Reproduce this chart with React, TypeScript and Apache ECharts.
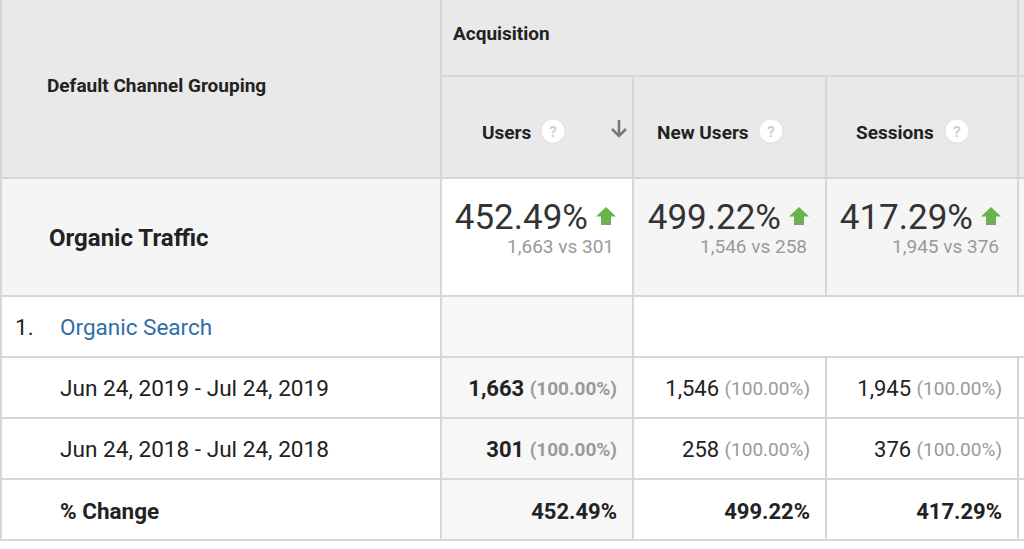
import React, { useEffect, useRef } from "react";
import * as echarts from "echarts";

// ---- data ----
const groupTitle = "Acquisition";
const dimensionTitle = "Default Channel Grouping";
const metrics = ["Users", "New Users", "Sessions"];
const segmentName = "Organic Traffic";
const channelName = "Organic Search";
const dateRanges = ["Jun 24, 2019 - Jul 24, 2019", "Jun 24, 2018 - Jul 24, 2018"];
const currentValues = [1663, 1546, 1945];
const previousValues = [301, 258, 376];
const currentShare = [100, 100, 100];
const previousShare = [100, 100, 100];
const changePct = [452.49, 499.22, 417.29];
const changeLabel = "% Change";

// ---- layout ----
const W = 1024;
const H = 549;
const colX = [441, 633, 826, 1018];
const rowY = { acq: 76, head: 178, seg: 296, chan: 357, r1: 418, r2: 479, end: 540 };
const FONT = "Roboto, 'Noto Sans', sans-serif";
const LINE = "#d7d7d7";

const fmtInt = (v: number) => v.toLocaleString("en-US");
const fmtPct = (v: number) => v.toFixed(2) + "%";

function txt(x: number, y: number, text: string, size: number, opts: any = {}) {
  return {
    type: "text",
    x,
    y,
    silent: true,
    style: {
      text,
      fill: opts.fill || "#222",
      fontSize: size,
      fontWeight: opts.bold ? "bold" : "normal",
      fontFamily: FONT,
      textAlign: opts.align || "left",
      textVerticalAlign: "middle",
      align: opts.align || "left",
      verticalAlign: "middle",
    },
  };
}

function rect(x: number, y: number, w: number, h: number, fill: string) {
  return { type: "rect", silent: true, shape: { x, y, width: w, height: h }, style: { fill } };
}

function line(x1: number, y1: number, x2: number, y2: number) {
  return {
    type: "line",
    silent: true,
    shape: { x1, y1, x2, y2 },
    style: { stroke: LINE, lineWidth: 2 },
  };
}

function buildGraphics() {
  const g: any[] = [];
  // backgrounds
  g.push(rect(0, 0, W, H, "#ffffff"));
  g.push(rect(0, 0, W, rowY.head, "#e9e9e9"));
  g.push(rect(0, rowY.head, W, rowY.seg - rowY.head, "#f5f5f5"));
  g.push(rect(colX[0], rowY.head, colX[1] - colX[0], rowY.seg - rowY.head, "#ffffff"));
  g.push(rect(colX[0], rowY.seg, colX[1] - colX[0], rowY.end - rowY.seg, "#f7f7f7"));

  // horizontal lines
  g.push(line(colX[0], rowY.acq, W, rowY.acq));
  [rowY.head, rowY.seg, rowY.chan, rowY.r1, rowY.r2, rowY.end].forEach((y) => g.push(line(0, y, W, y)));
  // vertical lines
  g.push(line(1, 0, 1, rowY.end));
  g.push(line(colX[0], 0, colX[0], rowY.end));
  g.push(line(colX[1], rowY.acq, colX[1], rowY.end));
  g.push(line(colX[2], rowY.acq, colX[2], rowY.seg));
  g.push(line(colX[2], rowY.chan, colX[2], rowY.end));
  g.push(line(colX[3], 0, colX[3], rowY.seg));
  g.push(line(colX[3], rowY.chan, colX[3], rowY.end));

  // header texts
  g.push(txt(453, 33, groupTitle, 19, { bold: true }));
  g.push(txt(47, 85, dimensionTitle, 19, { bold: true }));

  const headerStarts = [482, 657, 856];
  const helpOffsets = [71, 114, 101];
  metrics.forEach((m, i) => {
    g.push(txt(headerStarts[i], 132, m, 19, { bold: true }));
    const cx = headerStarts[i] + helpOffsets[i];
    g.push({
      type: "circle",
      silent: true,
      shape: { cx, cy: 131, r: 11.5 },
      style: { fill: "#ffffff", shadowBlur: 2, shadowColor: "rgba(0,0,0,0.12)" },
    });
    g.push(txt(cx, 132, "?", 15, { bold: true, fill: "#cfcfcf", align: "center" }));
  });
  // sort arrow
  g.push({
    type: "line",
    silent: true,
    shape: { x1: 619, y1: 120, x2: 619, y2: 136 },
    style: { stroke: "#777777", lineWidth: 2.6 },
  });
  g.push({
    type: "polyline",
    silent: true,
    shape: { points: [[612, 129], [619, 136], [626, 129]] },
    style: { stroke: "#777777", lineWidth: 2.6, fill: "none" },
  });

  // segment row
  g.push(txt(49, 238, segmentName, 24, { bold: true }));
  metrics.forEach((_, i) => {
    const right = colX[i + 1] - 17;
    const ax = right - 10;
    g.push({
      type: "polygon",
      silent: true,
      shape: {
        points: [
          [ax, 207],
          [ax + 10, 216.5],
          [ax + 5, 216.5],
          [ax + 5, 225],
          [ax - 5, 225],
          [ax - 5, 216.5],
          [ax - 10, 216.5],
        ],
      },
      style: { fill: "#68b54f" },
    });
    g.push(txt(right - 28, 217, fmtPct(changePct[i]), 35, { fill: "#333333", align: "right" }));
    g.push(
      txt(right - 2, 246, `${fmtInt(currentValues[i])} vs ${fmtInt(previousValues[i])}`, 19, {
        fill: "#9a9a9a",
        align: "right",
      })
    );
  });

  // channel row
  g.push(txt(15, 327, "1.", 22.5, { fill: "#222" }));
  g.push(txt(60, 327, channelName, 22.5, { fill: "#2f6ea6" }));

  // date rows
  const rowCenters = [388, 449];
  const rowVals = [currentValues, previousValues];
  const rowShares = [currentShare, previousShare];
  dateRanges.forEach((d, r) => {
    g.push(txt(60, rowCenters[r], d, 22.6, { fill: "#222" }));
    metrics.forEach((_, i) => {
      const right = colX[i + 1] - 16;
      const sorted = i === 0;
      g.push({
        type: "text",
        x: right,
        y: rowCenters[r],
        silent: true,
        style: {
          text: `{n|${fmtInt(rowVals[r][i])}} {g|(${rowShares[r][i].toFixed(2)}%)}`,
          fontFamily: FONT,
          fontSize: 22,
          fill: "#222",
          textAlign: "right",
          textVerticalAlign: "middle",
          align: "right",
          verticalAlign: "middle",
          rich: {
            n: {
              fontSize: 22,
              fontFamily: FONT,
              fontWeight: sorted ? "bold" : "normal",
              fill: "#222",
              color: "#222",
            },
            g: {
              fontSize: 19,
              fontFamily: FONT,
              fontWeight: sorted ? "bold" : "normal",
              fill: "#9a9a9a",
              color: "#9a9a9a",
            },
          },
        },
      });
    });
  });

  // change row
  g.push(txt(60, 511, changeLabel, 22.5, { bold: true }));
  metrics.forEach((_, i) => {
    g.push(txt(colX[i + 1] - 16, 511, fmtPct(changePct[i]), 22, { bold: true, align: "right" }));
  });
  return g;
}

export default function App() {
  const ref = useRef<HTMLDivElement>(null);
  useEffect(() => {
    if (!ref.current) return;
    const chart = echarts.init(ref.current, undefined, { renderer: "svg" });
    chart.setOption({
      animation: false,
      backgroundColor: "#ffffff",
      graphic: { elements: buildGraphics() },
    });
    return () => chart.dispose();
  }, []);
  return (
    <div
      ref={ref}
      style={{ position: "absolute", left: 0, top: 0, width: W, height: H }}
    />
  );
}
